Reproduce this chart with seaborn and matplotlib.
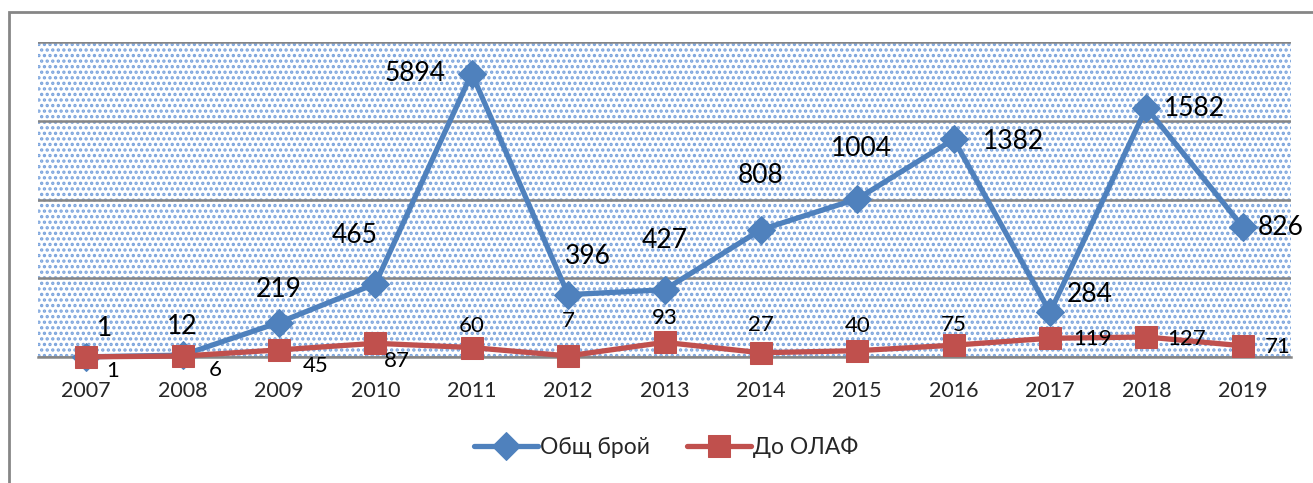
import matplotlib
matplotlib.use('Agg')
from matplotlib import pyplot as plt
from matplotlib.patches import Rectangle

import numpy as np
import pandas as pd
import seaborn as sb

years = ['2007', '2008', '2009', '2010', '2011', '2012', '2013',
         '2014', '2015', '2016', '2017', '2018', '2019']
# values as placed on the chart (2011 point sits at ~1800 although labelled 5894)
obsht_broy = [1, 12, 219, 465, 1800, 396, 427, 808, 1004, 1382, 284, 1582, 826]
obsht_labels = ['1', '12', '219', '465', '5894', '396', '427', '808', '1004',
                '1382', '284', '1582', '826']
do_olaf = [1, 6, 45, 87, 60, 7, 93, 27, 40, 75, 119, 127, 71]
do_olaf_labels = [str(v) for v in do_olaf]

# label offsets in pixels (dx, dy)
blue_off = [(18, 28), (0, 29), (0, 33), (-21, 48), (-57, 0), (20, 38), (0, 49),
            (0, 54), (4, 50), (60, -2), (40, 18), (48, -1), (38, -1)]
red_off = [(26, -14), (33, -14), (37, -16), (22, -18), (0, 22), (0, 35), (0, 24),
           (0, 28), (0, 25), (0, 20), (42, -1), (40, -2), (35, -1)]

BLUE = '#4F81BD'
RED = '#C0504D'

sb.set_style('white')
plt.rcParams['font.family'] = ['Lato', 'Noto Sans', 'DejaVu Sans']
plt.rcParams['hatch.linewidth'] = 1.6

W, H = 1313, 483
fig = plt.figure(figsize=(W / 100, H / 100), dpi=100)
ax = fig.add_axes([38 / W, 1 - 357 / H, (1291 - 38) / W, (357 - 42) / H])

# dotted background
bg = Rectangle((0, 0), 1, 1, transform=ax.transAxes, facecolor='white',
               edgecolor='#7aa3dc', hatch='...', linewidth=0, zorder=0)
ax.add_patch(bg)

idx = np.arange(len(years))
df = pd.DataFrame({'x': idx, 'blue': obsht_broy, 'red': do_olaf})

sb.lineplot(data=df, x='x', y='blue', ax=ax, color=BLUE, linewidth=3.8,
            marker='D', markersize=14, markeredgecolor=BLUE, label='Общ брой',
            zorder=3, clip_on=False)
sb.lineplot(data=df, x='x', y='red', ax=ax, color=RED, linewidth=3.8,
            marker='s', markersize=16, markeredgecolor=RED, label='До ОЛАФ',
            zorder=4, clip_on=False)

for i in idx:
    ax.annotate(obsht_labels[i], (i, obsht_broy[i]), xytext=blue_off[i],
                textcoords='offset pixels', ha='center', va='center',
                fontsize=19, color='black', zorder=6)
    ax.annotate(do_olaf_labels[i], (i, do_olaf[i]), xytext=red_off[i],
                textcoords='offset pixels', ha='center', va='center',
                fontsize=16, color='black', zorder=6)

ax.set_xlim(-0.5, len(years) - 0.5)
ax.set_ylim(0, 2000)
ax.set_yticks([0, 500, 1000, 1500, 2000])
ax.set_yticklabels([])
ax.tick_params(axis='y', length=0)
ax.yaxis.grid(True, color='#868686', linewidth=1.8, zorder=1)
ax.set_axisbelow(True)

ax.set_xticks(idx)
ax.set_xticklabels(years, fontsize=15.5)
ax.set_xticks(np.arange(-0.5, len(years)), minor=True)
ax.tick_params(axis='x', which='major', length=0, pad=17)
ax.tick_params(axis='x', which='minor', length=8, width=1.8, color='#868686',
               direction='out')
ax.set_xlabel('')
ax.set_ylabel('')

for s in ['left', 'right', 'top']:
    ax.spines[s].set_visible(False)
ax.spines['bottom'].set_color('#868686')
ax.spines['bottom'].set_linewidth(1.8)

ax.get_legend().remove()
h, l = ax.get_legend_handles_labels()
fig.legend(h, l, loc='center', bbox_to_anchor=(666 / W, 1 - 447 / H),
           ncol=2, frameon=False, fontsize=16.5, handlelength=2.8,
           columnspacing=1.6, handletextpad=0.1)

# outer chart frame
fig.patches.append(Rectangle((9 / W, -0.1), 1.1, 1 - 12 / H + 0.1,
                             transform=fig.transFigure, fill=False,
                             edgecolor='#868686', linewidth=2))

fig.savefig('out.png', dpi=100)
